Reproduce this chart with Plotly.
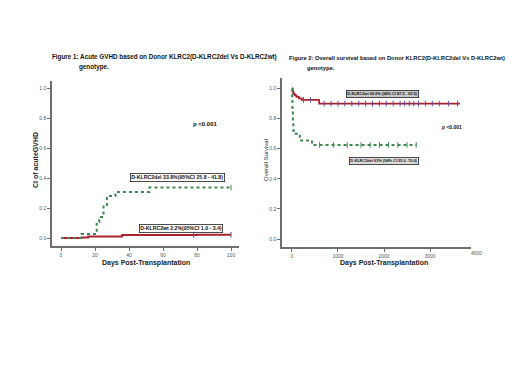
import numpy as np
import plotly.graph_objects as go

# ---------------- data ----------------
# Figure 1: cumulative incidence of acute GVHD
gvhd_del_days = [0, 12, 21, 22.5, 25, 27, 32, 52, 100]
gvhd_del_ci = [0, 0.027, 0.107, 0.14, 0.22, 0.28, 0.307, 0.337, 0.337]
gvhd_wt_days = [0, 12, 16, 36, 80, 100]
gvhd_wt_ci = [0, 0.004, 0.01, 0.02, 0.022, 0.022]
gvhd_del_censor = [100]
gvhd_wt_censor = [78, 100]

# Figure 2: overall survival
os_wt_days = [0, 15, 30, 60, 100, 150, 210, 590, 3650]
os_wt_surv = [1.0, 0.98, 0.965, 0.955, 0.945, 0.935, 0.925, 0.90, 0.90]
os_del_days = [0, 5, 10, 20, 30, 80, 170, 435, 2700]
os_del_surv = [1.0, 0.93, 0.86, 0.78, 0.72, 0.70, 0.655, 0.625, 0.625]
os_wt_censor = [250, 400, 700, 850, 1000, 1150, 1300, 1450, 1600, 1750, 1900,
                2050, 2200, 2350, 2450, 2550, 2650, 2750, 2900, 3050, 3200,
                3400, 3600]
os_del_censor = [600, 900, 1200, 1500, 1700, 1900, 2100, 2300, 2500, 2700]

left_title = "Figure 1: Acute GVHD based on Donor KLRC2(D-KLRC2del Vs D-KLRC2wt)"
right_title = "Figure 2: Overall survival based on Donor KLRC2(D-KLRC2del Vs D-KLRC2wt)"
title_line2 = "genotype."
left_del_label = "D-KLRC2del 33.8%(95%CI 25.8 - 41.8)"
left_wt_label = "D-KLRC2wt 2.2%(95%CI 1.0 - 3.4)"
right_wt_label = "D-KLRC2wt 90.0% (94% CI 87.5 - 92.5)"
right_del_label = "D-KLRC2del 63% (94% CI 55.0 -70.0)"
p_label = "p <0.001"


def step_at(days, vals, t):
    idx = np.searchsorted(np.asarray(days), np.asarray(t), side="right") - 1
    return list(np.asarray(vals)[idx])


W, H = 520, 368
OFF = 8  # page body margin offset
GREEN = "#3c8a4f"
RED = "#a8232e"
BLUE = "#5a4fa8"
AX = "#6e6e6e"

fig = go.Figure()

# left panel
fig.add_trace(go.Scatter(x=gvhd_wt_days, y=gvhd_wt_ci, mode="lines", line_shape="hv",
                         line=dict(color=RED, width=2), xaxis="x", yaxis="y"))
fig.add_trace(go.Scatter(x=gvhd_del_days, y=gvhd_del_ci, mode="lines", line_shape="hv",
                         line=dict(color=GREEN, width=2, dash="dot"), xaxis="x", yaxis="y"))
fig.add_trace(go.Scatter(x=gvhd_wt_censor, y=step_at(gvhd_wt_days, gvhd_wt_ci, gvhd_wt_censor),
                         mode="markers", marker=dict(symbol="line-ns", size=4, color=BLUE,
                                                     line=dict(width=1, color=BLUE)),
                         xaxis="x", yaxis="y"))
fig.add_trace(go.Scatter(x=gvhd_del_censor, y=step_at(gvhd_del_days, gvhd_del_ci, gvhd_del_censor),
                         mode="markers", marker=dict(symbol="line-ns", size=4, color=GREEN,
                                                     line=dict(width=1, color=GREEN)),
                         xaxis="x", yaxis="y"))

# right panel
fig.add_trace(go.Scatter(x=os_wt_days, y=os_wt_surv, mode="lines", line_shape="hv",
                         line=dict(color=RED, width=1.8), xaxis="x2", yaxis="y2"))
fig.add_trace(go.Scatter(x=os_del_days, y=os_del_surv, mode="lines", line_shape="hv",
                         line=dict(color=GREEN, width=2, dash="dot"), xaxis="x2", yaxis="y2"))
fig.add_trace(go.Scatter(x=os_wt_censor, y=step_at(os_wt_days, os_wt_surv, os_wt_censor),
                         mode="markers", marker=dict(symbol="line-ns", size=4, color=BLUE,
                                                     line=dict(width=1, color=BLUE)),
                         xaxis="x2", yaxis="y2"))
fig.add_trace(go.Scatter(x=os_del_censor, y=step_at(os_del_days, os_del_surv, os_del_censor),
                         mode="markers", marker=dict(symbol="line-ns", size=4, color=GREEN,
                                                     line=dict(width=1, color=GREEN)),
                         xaxis="x2", yaxis="y2"))

tickfont = dict(family="Liberation Sans", size=5, color="#555")
common_ax = dict(showgrid=False, zeroline=False, showline=True, linecolor=AX, linewidth=1.5,
                 ticks="outside", ticklen=3, tickcolor=AX, tickwidth=1, tickfont=tickfont)


def px(x):
    return (x - OFF) / W


def py(y):
    return 1 - (y - OFF) / H


fig.update_layout(
    width=W, height=H, margin=dict(l=0, r=0, t=0, b=0),
    paper_bgcolor="white", plot_bgcolor="white", showlegend=False,
    xaxis=dict(domain=[px(52), px(239)], range=[-5.3, 104.7], tickvals=[0, 20, 40, 60, 80, 100],
               anchor="y", **common_ax),
    yaxis=dict(domain=[py(246), py(81)], range=[-0.053, 1.047],
               tickvals=[0, 0.2, 0.4, 0.6, 0.8, 1.0], tickformat=".1f", anchor="x", **common_ax),
    xaxis2=dict(domain=[px(282), px(471)], range=[-217, 3891],
                tickvals=[0, 1000, 2000, 3000], anchor="y2", **common_ax),
    yaxis2=dict(domain=[py(247), py(78)], range=[-0.053, 1.07],
                tickvals=[0, 0.2, 0.4, 0.6, 0.8, 1.0], tickformat=".1f", anchor="x2", **common_ax),
)

ann = []
tfont_l = dict(family="Liberation Sans", size=6.3, color="#111")
tfont_r = dict(family="Liberation Sans", size=5.8, color="#111")
ann.append(dict(text="<b>" + left_title + "</b>", x=px(50), y=py(57), xanchor="left", yanchor="middle",
                font=tfont_l))
ann.append(dict(text="<b>" + title_line2 + "</b>", x=px(77), y=py(67), xanchor="left", yanchor="middle",
                font=tfont_l))
ann.append(dict(text="<b>" + right_title + "</b>", x=px(287), y=py(58), xanchor="left", yanchor="middle",
                font=tfont_r))
ann.append(dict(text="<b>" + title_line2 + "</b>", x=px(305), y=py(68), xanchor="left", yanchor="middle",
                font=tfont_r))
# 4000 tick label beyond axis end
ann.append(dict(text="4000", x=px(476), y=py(253), xanchor="center", yanchor="middle", font=tickfont))

axt = dict(family="Liberation Sans", size=7, color="#222")
ann.append(dict(text="<b>Days Post-Transplantation</b>", x=px(146), y=py(263), xanchor="center",
                yanchor="middle", font=axt))
ann.append(dict(text="<b>Days Post-Transplantation</b>", x=px(384), y=py(263), xanchor="center",
                yanchor="middle", font=axt))
ann.append(dict(text="<b>CI of acuteGVHD</b>", x=px(35), y=py(160), xanchor="center",
                yanchor="middle", textangle=-90, font=axt))
ann.append(dict(text="Overall Survival", x=px(266), y=py(160), xanchor="center",
                yanchor="middle", textangle=-90, font=dict(family="Liberation Sans", size=6, color="#222")))

pf = dict(family="Liberation Sans", size=6, color="#111")
ann.append(dict(text="<b>" + p_label + "</b>", x=px(205), y=py(124), xanchor="center", yanchor="middle",
                font=pf))
ann.append(dict(text="<b>" + p_label + "</b>", x=px(452), y=py(127), xanchor="center", yanchor="middle",
                font=dict(family="Liberation Sans", size=5, color="#111")))

bf = dict(family="Liberation Sans", size=5.2, color="#111")
ann.append(dict(text="<b>" + left_del_label + "</b>", x=px(177), y=py(177), xanchor="center",
                yanchor="middle", font=bf, bordercolor="#222", borderwidth=0.8, borderpad=0.5,
                bgcolor="white"))
ann.append(dict(text="<b>" + left_wt_label + "</b>", x=px(181), y=py(229), xanchor="center",
                yanchor="middle", font=bf, bordercolor="#222", borderwidth=0.8, borderpad=0.5,
                bgcolor="white"))
bf2 = dict(family="Liberation Sans", size=3.9, color="#111")
ann.append(dict(text="<b>" + right_wt_label + "</b>", x=px(382), y=py(94), xanchor="center",
                yanchor="middle", font=bf2, bordercolor="#222", borderwidth=0.8, borderpad=0.5,
                bgcolor="#c8c8c8"))
ann.append(dict(text="<b>" + right_del_label + "</b>", x=px(384), y=py(161), xanchor="center",
                yanchor="middle", font=bf2, bordercolor="#222", borderwidth=0.8, borderpad=0.5,
                bgcolor="#dcdcdc"))

for a in ann:
    a.update(xref="paper", yref="paper", showarrow=False)
fig.update_layout(annotations=ann)

fig.write_html("out.html")
